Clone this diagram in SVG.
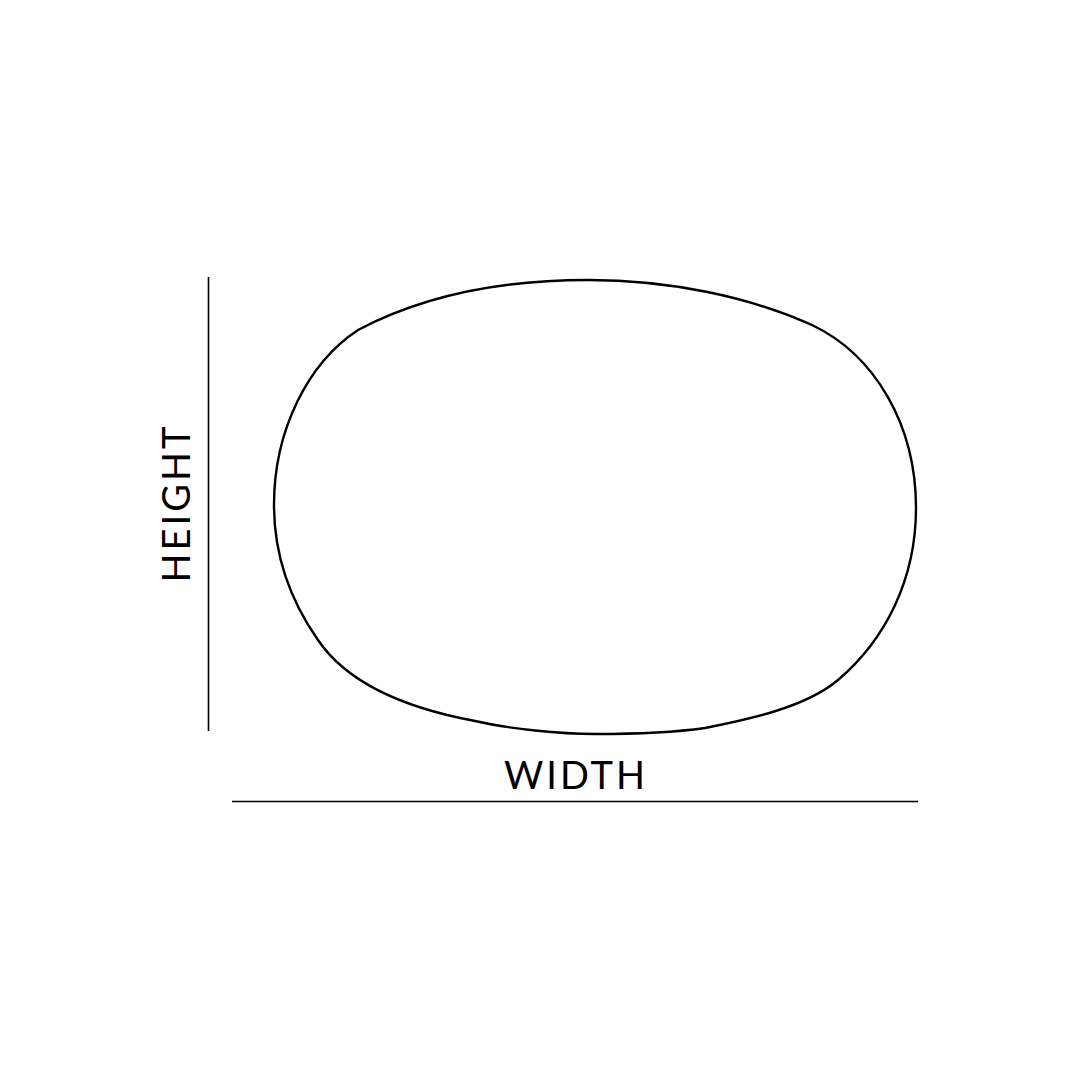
<svg xmlns="http://www.w3.org/2000/svg" width="1080" height="1080" viewBox="0 0 1080 1080">
<style>
.ln{stroke:#000;stroke-width:1.6;fill:none}
.outline{stroke:#000;stroke-width:2.4;fill:none}
.lbl{font-family:Lato,"Liberation Sans",sans-serif;font-weight:400;font-size:38px;fill:#000;letter-spacing:3px}
</style>
<rect width="1080" height="1080" fill="#fff"/>
<g id="shape">
<path class="outline" d="M 358 330 C 428 293, 510 280, 588 280 C 670 280, 750 297, 812 325 C 875 355, 916 425, 916 508 C 916 580, 885 640, 838 680 C 805 708, 745 720, 705 728 C 670 733, 630 734, 595 734 C 560 734, 510 729, 475 721 C 400 707, 345 680, 318 640 C 290 600, 274 555, 274 505 C 274 430, 308 363, 358 330 Z"/>
</g>
<g id="dimensions">
<line class="ln" x1="208.5" y1="277" x2="208.5" y2="731"/>
<line class="ln" x1="232" y1="801.5" x2="918" y2="801.5"/>
</g>
<g id="labels">
<text class="lbl" x="576" y="789" text-anchor="middle">WIDTH</text>
<text class="lbl" x="0" y="0" text-anchor="middle" transform="translate(190 503) rotate(-90)">HEIGHT</text>
</g>
</svg>
